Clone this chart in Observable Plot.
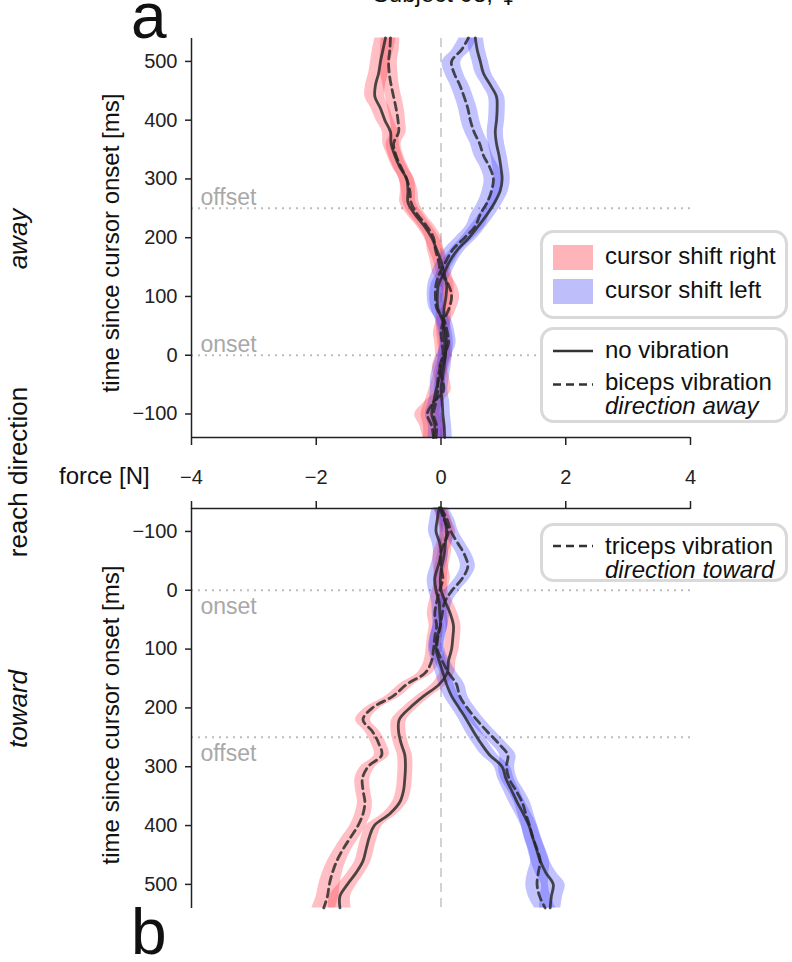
<!DOCTYPE html>
<html>
<head>
<meta charset="utf-8">
<script src="https://cdn.jsdelivr.net/npm/d3@7"></script>
<script src="https://cdn.jsdelivr.net/npm/@observablehq/plot@0.6"></script>
<style>
  body { margin: 0; background: #fff; }
  #wrap { position: relative; width: 792px; height: 962px; overflow: hidden; background: #fff; }
  #wrap > div.chart { position: absolute; left: 0; }
  #wrap svg g[aria-label$="tick"] { stroke-width: 1.5; }
  #overlay { position: absolute; left: 0; top: 0; pointer-events: none; }
  #overlay text { font-family: "Liberation Sans", Arial, sans-serif; fill: #111; }
</style>
</head>
<body>
<div id="wrap">
  <div class="chart" id="top" style="top:0px"></div>
  <div class="chart" id="bottom" style="top:470px"></div>
  <svg id="overlay" width="792" height="962"></svg>
</div>
<script>
// ---------------- data ----------------
const time = [-140,-120,-100,-80,-60,-40,-20,0,20,40,60,80,100,120,140,160,180,200,220,240,260,280,300,320,340,360,380,400,420,440,460,480,500,520,540];

const forceTicks = [-4, -2, 0, 2, 4];
const timeTicks = [-100, 0, 100, 200, 300, 400, 500];
const eventTimes = [0, 250];
const eventLabels = ["onset", "offset"];

// panel a: reach direction away (mean force in N)
const awayRightNoVib = [-0.12,-0.10,-0.15,-0.12,-0.08,-0.03,0.02,0.07,0.06,0.04,0.04,0.05,0.08,0.09,0.05,0.00,-0.07,-0.15,-0.27,-0.42,-0.53,-0.53,-0.55,-0.66,-0.74,-0.80,-0.81,-0.90,-0.97,-1.06,-1.05,-1.00,-0.97,-0.93,-0.89];
const awayRightVib   = [-0.12,-0.15,-0.22,-0.12,0.04,0.02,-0.02,0.03,0.02,0.00,0.05,0.13,0.17,0.12,0.00,-0.04,-0.09,-0.12,-0.23,-0.38,-0.48,-0.50,-0.55,-0.64,-0.72,-0.76,-0.68,-0.69,-0.72,-0.76,-0.80,-0.83,-0.84,-0.82,-0.81];
const awayLeftNoVib  = [0.06,0.05,0.03,0.02,0.00,0.02,0.05,0.07,0.09,0.07,0.02,-0.05,-0.06,-0.04,0.05,0.14,0.27,0.45,0.60,0.74,0.86,0.95,0.98,0.96,0.93,0.89,0.87,0.89,0.90,0.89,0.79,0.68,0.63,0.58,0.55];
const awayLeftVib    = [-0.08,-0.07,-0.12,-0.08,-0.05,-0.05,-0.01,0.05,0.12,0.10,0.05,-0.07,-0.09,-0.08,-0.02,0.08,0.19,0.38,0.55,0.63,0.74,0.81,0.84,0.78,0.68,0.62,0.53,0.47,0.43,0.37,0.30,0.21,0.17,0.33,0.44];

const seAwayRightNoVib = [0.16,0.18,0.17,0.14,0.12,0.11,0.11,0.11,0.11,0.11,0.12,0.12,0.12,0.12,0.12,0.12,0.12,0.12,0.12,0.13,0.13,0.12,0.12,0.12,0.12,0.13,0.13,0.14,0.15,0.16,0.16,0.16,0.16,0.17,0.17];
const seAwayRightVib   = [0.17,0.19,0.20,0.15,0.12,0.12,0.12,0.12,0.12,0.12,0.12,0.12,0.13,0.13,0.13,0.13,0.13,0.13,0.13,0.13,0.13,0.13,0.12,0.12,0.12,0.12,0.12,0.12,0.13,0.13,0.13,0.14,0.14,0.15,0.15];
const seAwayLeftNoVib  = [0.12,0.12,0.12,0.12,0.11,0.11,0.11,0.11,0.11,0.11,0.11,0.11,0.12,0.12,0.12,0.12,0.12,0.13,0.13,0.13,0.13,0.13,0.13,0.13,0.13,0.13,0.13,0.13,0.13,0.13,0.13,0.13,0.13,0.13,0.13];
const seAwayLeftVib    = [0.13,0.13,0.13,0.12,0.12,0.12,0.12,0.12,0.12,0.12,0.12,0.12,0.13,0.13,0.13,0.14,0.14,0.15,0.15,0.15,0.15,0.15,0.15,0.15,0.15,0.15,0.15,0.15,0.15,0.15,0.15,0.15,0.15,0.15,0.15];

// panel b: reach direction toward
const towardRightNoVib = [0.00,0.06,0.09,0.07,0.05,0.01,-0.01,0.00,0.07,0.15,0.20,0.19,0.17,0.12,0.10,-0.03,-0.28,-0.50,-0.67,-0.68,-0.64,-0.58,-0.57,-0.58,-0.60,-0.66,-0.82,-1.07,-1.15,-1.20,-1.25,-1.36,-1.50,-1.62,-1.62];
const towardRightVib   = [-0.02,0.05,0.12,0.05,-0.01,0.00,0.03,-0.02,-0.07,-0.10,-0.07,-0.10,-0.12,-0.15,-0.25,-0.55,-0.77,-1.10,-1.25,-1.10,-1.00,-0.95,-1.17,-1.26,-1.25,-1.22,-1.25,-1.33,-1.45,-1.57,-1.67,-1.74,-1.79,-1.82,-1.88];
const towardLeftNoVib  = [-0.03,-0.06,-0.08,-0.02,0.00,-0.05,-0.10,-0.08,-0.03,-0.02,-0.01,-0.06,-0.08,-0.03,0.03,0.09,0.17,0.29,0.41,0.52,0.64,0.78,0.98,1.04,1.13,1.22,1.32,1.41,1.47,1.53,1.59,1.68,1.80,1.77,1.75];
const towardLeftVib    = [0.00,0.10,0.16,0.27,0.38,0.43,0.34,0.18,0.06,0.02,-0.01,-0.05,-0.06,0.02,0.12,0.25,0.30,0.42,0.57,0.74,0.92,1.07,1.05,1.09,1.20,1.30,1.36,1.42,1.47,1.54,1.59,1.56,1.54,1.58,1.67];

const seTowardRightNoVib = [0.10,0.11,0.11,0.11,0.11,0.11,0.11,0.11,0.12,0.12,0.12,0.12,0.12,0.12,0.12,0.12,0.12,0.12,0.12,0.12,0.12,0.12,0.12,0.12,0.12,0.12,0.12,0.13,0.13,0.13,0.13,0.14,0.15,0.17,0.18];
const seTowardRightVib   = [0.10,0.11,0.12,0.12,0.12,0.12,0.12,0.12,0.12,0.12,0.12,0.12,0.12,0.12,0.12,0.12,0.12,0.12,0.12,0.12,0.12,0.12,0.12,0.12,0.12,0.12,0.13,0.13,0.14,0.14,0.15,0.16,0.17,0.18,0.19];
const seTowardLeftNoVib  = [0.11,0.12,0.12,0.12,0.12,0.12,0.12,0.12,0.12,0.12,0.12,0.12,0.12,0.12,0.12,0.12,0.12,0.12,0.12,0.13,0.13,0.13,0.13,0.13,0.13,0.13,0.13,0.13,0.13,0.14,0.15,0.17,0.19,0.18,0.17];
const seTowardLeftVib    = [0.12,0.12,0.12,0.12,0.12,0.12,0.12,0.12,0.12,0.12,0.12,0.12,0.12,0.12,0.13,0.13,0.13,0.13,0.13,0.13,0.13,0.13,0.13,0.13,0.13,0.13,0.13,0.13,0.14,0.14,0.15,0.17,0.18,0.18,0.17];

const shiftKeys = ["right", "left"];
const shiftLabels = ["cursor shift right", "cursor shift left"];
const shiftColors = ["#ff3040", "#3a3aff"];

// ---------------- build tables ----------------
const series = [
  {panel: "away", dir: "right", vib: false, f: awayRightNoVib, se: seAwayRightNoVib},
  {panel: "away", dir: "right", vib: true,  f: awayRightVib,   se: seAwayRightVib},
  {panel: "away", dir: "left",  vib: false, f: awayLeftNoVib,  se: seAwayLeftNoVib},
  {panel: "away", dir: "left",  vib: true,  f: awayLeftVib,    se: seAwayLeftVib},
  {panel: "toward", dir: "right", vib: false, f: towardRightNoVib, se: seTowardRightNoVib},
  {panel: "toward", dir: "right", vib: true,  f: towardRightVib,   se: seTowardRightVib},
  {panel: "toward", dir: "left",  vib: false, f: towardLeftNoVib,  se: seTowardLeftNoVib},
  {panel: "toward", dir: "left",  vib: true,  f: towardLeftVib,    se: seTowardLeftVib}
];
function panelRows(panel) {
  return series.filter(s => s.panel === panel).flatMap(s =>
    time.map((t, i) => ({
      t, f: s.f[i], lo: s.f[i] - s.se[i], hi: s.f[i] + s.se[i],
      dir: s.dir, vib: s.vib, key: s.dir + (s.vib ? "-vib" : "-novib")
    })));
}
const events = eventTimes.map((t, i) => ({t, label: eventLabels[i]}));

const lineColor = "#262626";
function panelMarks(rows, yStart, labelDy) {
  return [
    Plot.ruleY(eventTimes, {stroke: "#bdbdbd", strokeWidth: 2, strokeDasharray: "2,5"}),
    Plot.ruleX([0], {stroke: "#d2d2d2", strokeWidth: 2, strokeDasharray: "9,6"}),
    Plot.text(events, {frameAnchor: "left", y: "t", text: "label", dx: 9, dy: labelDy, textAnchor: "start",
      fill: "#a8a8a8", fontSize: 23}),
    Plot.areaX(rows, {y: "t", x1: "lo", x2: "hi", z: "key", fill: "dir", fillOpacity: 0.31, curve: "catmull-rom"}),
    Plot.lineX(rows.filter(d => !d.vib), {x: "f", y: "t", z: "key", stroke: lineColor, strokeOpacity: 0.82,
      strokeWidth: 2.8, curve: "catmull-rom"}),
    Plot.lineX(rows.filter(d => d.vib), {x: "f", y: "t", z: "key", stroke: lineColor, strokeOpacity: 0.82,
      strokeWidth: 2.8, strokeDasharray: "8,5", curve: "catmull-rom"}),
    Plot.ruleX([-4], {stroke: "#222", strokeWidth: 1.5}),
    Plot.ruleY([yStart], {stroke: "#222", strokeWidth: 1.5})
  ];
}
const commonStyle = {background: "transparent", overflow: "visible", fontFamily: "Liberation Sans, Arial, sans-serif",
  fontSize: "20px", color: "#222"};

const topPlot = Plot.plot({
  width: 792, height: 500,
  marginTop: 38, marginBottom: 63, marginLeft: 191, marginRight: 102,
  style: commonStyle,
  x: {domain: [-4, 4], ticks: forceTicks, tickSize: 8, tickPadding: 24, label: null},
  y: {domain: [-140, 539], ticks: timeTicks, tickSize: 6, tickPadding: 8, label: null},
  color: {domain: shiftKeys, range: shiftColors},
  marks: panelMarks(panelRows("away"), -140, -11)
});
document.getElementById("top").appendChild(topPlot);

const bottomPlot = Plot.plot({
  width: 792, height: 492,
  marginTop: 38, marginBottom: 54, marginLeft: 191, marginRight: 102,
  style: commonStyle,
  x: {domain: [-4, 4], axis: "top", ticks: forceTicks, tickSize: 8, tickFormat: () => "", label: null},
  y: {domain: [-139, 541], reverse: true, ticks: timeTicks, tickSize: 6, tickPadding: 8, label: null},
  color: {domain: shiftKeys, range: shiftColors},
  marks: panelMarks(panelRows("toward"), -139, 16)
});
document.getElementById("bottom").appendChild(bottomPlot);

// ---------------- overlay: labels & legends ----------------
const svg = d3.select("#overlay");
function txt(x, y, s, size, opts = {}) {
  const t = svg.append("text").attr("x", x).attr("y", y).attr("font-size", size).text(s);
  if (opts.anchor) t.attr("text-anchor", opts.anchor);
  if (opts.italic) t.attr("font-style", "italic");
  if (opts.rotate) t.attr("transform", `rotate(-90 ${x} ${y})`);
  return t;
}
const title = txt(445, 2, "Subject 08, ", 24, {anchor: "middle"});
title.append("tspan").attr("font-family", "DejaVu Sans").attr("fill", "#111").text("\u2640");
txt(131, 38, "a", 64);
txt(131, 954, "b", 64);
txt(27, 239, "away", 26, {anchor: "middle", italic: true, rotate: true});
txt(27, 472, "reach direction", 26, {anchor: "middle", rotate: true});
txt(27, 709, "toward", 26, {anchor: "middle", italic: true, rotate: true});
txt(119, 243, "time since cursor onset [ms]", 24, {anchor: "middle", rotate: true});
txt(119, 715, "time since cursor onset [ms]", 24, {anchor: "middle", rotate: true});
txt(59, 484, "force [N]", 24);

function box(y, h) {
  svg.append("rect").attr("x", 541.5).attr("y", y).attr("width", 245).attr("height", h).attr("rx", 12)
    .attr("fill", "#fff").attr("stroke", "#d9d9d9").attr("stroke-width", 3);
}
function sample(y, dashed) {
  const l = svg.append("line").attr("x1", 553).attr("x2", 593).attr("y1", y).attr("y2", y)
    .attr("stroke", "#333").attr("stroke-width", 2.5);
  if (dashed) l.attr("stroke-dasharray", "8,5");
}
box(231.5, 86);
const swatchFill = ["#ffb4b9", "#bebefa"];
[245, 279].forEach((y, i) => {
  svg.append("rect").attr("x", 553).attr("y", y).attr("width", 40).attr("height", 25).attr("fill", swatchFill[i]);
  txt(605, y + 19, shiftLabels[i], 24);
});
box(328.5, 93);
sample(351, false); txt(605, 358, "no vibration", 24);
sample(384.5, true); txt(605, 390, "biceps vibration", 24);
txt(605, 414, "direction away", 24, {italic: true});
box(524.5, 56);
sample(546, true); txt(605, 554, "triceps vibration", 24);
txt(605, 578, "direction toward", 24, {italic: true});
</script>
</body>
</html>
